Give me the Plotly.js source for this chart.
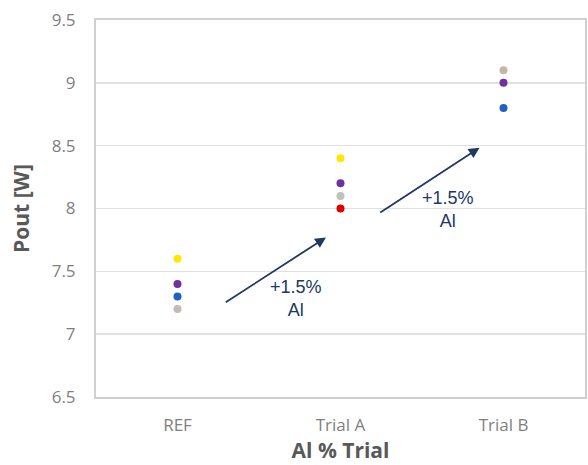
<!DOCTYPE html>
<html>
<head>
<meta charset="utf-8">
<script src="https://cdn.plot.ly/plotly-3.0.1.min.js"></script>
<style>html,body{margin:0;padding:0;background:#fff;}#chart{width:588px;height:465px;}</style>
</head>
<body>
<div id="chart"></div>
<script>
const categories = ['REF', 'Trial A', 'Trial B'];
const yellowVals = [7.6, 8.4, null];
const purpleVals = [7.4, 8.2, 9.0];
const blueVals = [7.3, null, 8.8];
const grayVals = [7.2, 8.1, 9.1];
const redVals = [null, 8.0, null];
const grayColors = ['#C8B8B8', '#BFBFBF', '#C4B8A4'];
const yTicks = [6.5, 7, 7.5, 8, 8.5, 9, 9.5];
const yTickText = ['6.5', '7', '7.5', '8', '8.5', '9', '9.5'];
const arrowLabel = '+1.5%<br>Al';

function tr(vals, color) {
  return {x: categories, y: vals, type: 'scatter', mode: 'markers',
    marker: {size: 8, color: color}, showlegend: false, hoverinfo: 'skip'};
}
const data = [
  tr(grayVals, grayColors),
  tr(blueVals, '#1F62C4'),
  tr(purpleVals, '#7030A0'),
  tr(yellowVals, '#FFE800'),
  tr(redVals, '#E00000')
];
const navy = '#203864';
const layout = {
  width: 588, height: 465,
  margin: {l: 96, r: 3, t: 20, b: 68},
  paper_bgcolor: '#fff', plot_bgcolor: '#fff',
  font: {family: 'Open Sans, Liberation Sans, sans-serif', color: '#595959'},
  xaxis: {type: 'category', range: [-0.5, 2.5], showgrid: false, zeroline: false,
    showline: true, linecolor: '#D0D0D0', linewidth: 2, mirror: true,
    ticks: '', tickfont: {size: 17, color: '#7F7F7F'}, ticklabelstandoff: 12,
    title: {text: '<b>Al % Trial</b>', font: {size: 21, color: '#595959'}, standoff: 4}},
  yaxis: {range: [6.5, 9.5], tickvals: yTicks, ticktext: yTickText,
    showgrid: true, gridcolor: '#E0E0E0', gridwidth: 1.5, zeroline: false,
    showline: true, linecolor: '#D0D0D0', linewidth: 2, mirror: true,
    ticks: '', ticklen: 0, tickfont: {size: 17, color: '#7F7F7F'}, ticklabelstandoff: 15,
    title: {text: '<b>Pout [W]</b>', font: {size: 21, color: '#595959'}, standoff: 16}},
  annotations: [
    {x: 0.911, y: 7.77, ax: 0.287, ay: 7.246, xref: 'x', yref: 'y', axref: 'x', ayref: 'y',
      showarrow: true, arrowhead: 2, arrowsize: 1.2, arrowwidth: 1.8, arrowcolor: navy, text: ''},
    {x: 1.853, y: 8.484, ax: 1.235, ay: 7.96, xref: 'x', yref: 'y', axref: 'x', ayref: 'y',
      showarrow: true, arrowhead: 2, arrowsize: 1.2, arrowwidth: 1.8, arrowcolor: navy, text: ''},
    {x: 0.73, y: 7.28, xref: 'x', yref: 'y', showarrow: false, text: arrowLabel,
      font: {family: 'Liberation Sans, Arial, sans-serif', size: 18, color: navy}},
    {x: 1.66, y: 7.99, xref: 'x', yref: 'y', showarrow: false, text: arrowLabel,
      font: {family: 'Liberation Sans, Arial, sans-serif', size: 18, color: navy}}
  ]
};
Plotly.newPlot('chart', data, layout, {displayModeBar: false, staticPlot: true});
</script>
</body>
</html>
